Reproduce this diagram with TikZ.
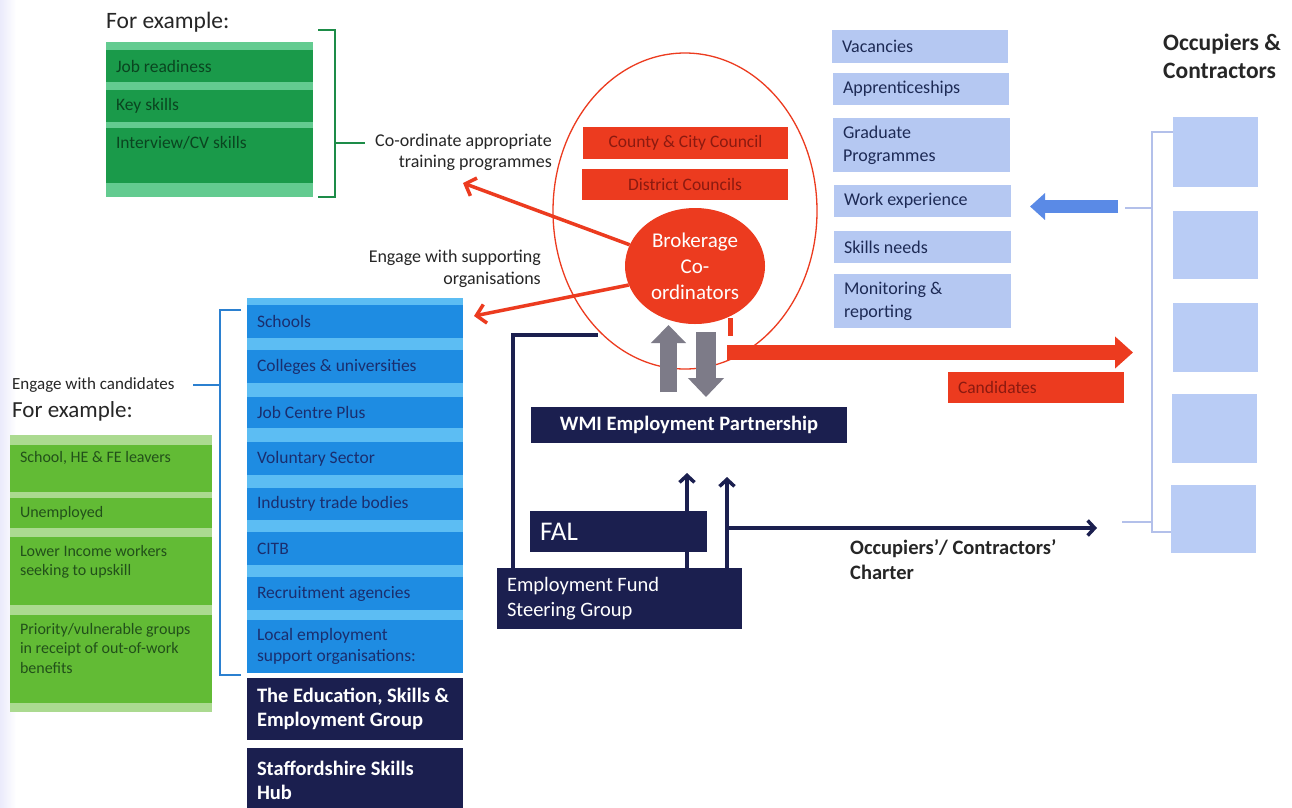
\documentclass[tikz,border=0pt]{standalone}
\usepackage{fontspec}
\setmainfont{Carlito}
\usetikzlibrary{shapes.geometric,arrows.meta}
\definecolor{myred}{HTML}{EC3B1F}
\definecolor{redtext}{HTML}{8B1A10}
\definecolor{dkgreen}{HTML}{1A9A4A}
\definecolor{dgstrip}{HTML}{63CB90}
\definecolor{dgtext}{HTML}{0A4520}
\definecolor{lmgreen}{HTML}{62BB35}
\definecolor{lgstrip}{HTML}{ABDA90}
\definecolor{lgtext}{HTML}{22501A}
\definecolor{bluebox}{HTML}{1E8CE2}
\definecolor{bstrip}{HTML}{5CBDF3}
\definecolor{btext}{HTML}{1A2E6E}
\definecolor{navy}{HTML}{1B1F4F}
\definecolor{peri}{HTML}{B5C8F2}
\definecolor{peritext}{HTML}{1D2A55}
\definecolor{occbox}{HTML}{B9CCF5}
\definecolor{occline}{HTML}{B3C0EA}
\definecolor{greyarr}{HTML}{7D7B88}
\definecolor{greenbr}{HTML}{1D8C48}
\definecolor{bluebr}{HTML}{2B80D0}
\definecolor{bluearr}{HTML}{5A8AE6}
\definecolor{lbltext}{HTML}{262626}
\newcommand\fs[2]{\fontsize{#1}{#2}\selectfont}
% #1 style, #2 name, #3 x1, #4 y1, #5 x2, #6 y2, #7 vertical pos, #8 text
\newcommand\rbox[8]{%
  \pgfmathsetmacro\bw{#5-#3}%
  \pgfmathsetmacro\bh{#6-#4}%
  \pgfmathsetmacro\tw{#5-#3-20}%
  \node[#1,inner sep=0pt,minimum width=\bw pt,minimum height=\bh pt] (#2)
    at ({(#3+#5)/2},{(#4+#6)/2}) {\parbox[c][\bh pt][#7]{\tw pt}{\raggedright #8}};%
}
\tikzset{
  gpanel/.style={fill=dgstrip},
  gbox/.style={fill=dkgreen,text=dgtext,font=\fs{17.5}{20}},
  lpanel/.style={fill=lgstrip},
  lbox/.style={fill=lmgreen,text=lgtext,font=\fs{16}{19.5}},
  bpanel/.style={fill=bstrip},
  bbox/.style={fill=bluebox,text=btext,font=\fs{17.5}{21}},
  nbox/.style={fill=navy,text=white,font=\fs{20.5}{24}\bfseries},
  nrbox/.style={fill=navy,text=white,font=\fs{20.5}{25}},
  rbx/.style={fill=myred,text=redtext,font=\fs{17.5}{19}},
  pbox/.style={fill=peri,text=peritext,font=\fs{18}{23}},
  obox/.style={fill=occbox},
  lbl/.style={text=lbltext,inner sep=0pt},
  redln/.style={draw=myred,line width=3.5pt,-{Straight Barb[length=9pt,width=19pt]}},
  navyln/.style={draw=navy,line width=3.5pt,-{Straight Barb[length=7pt,width=15pt]}},
  navyplain/.style={draw=navy,line width=3.5pt},
  gbracket/.style={draw=greenbr,line width=2.5pt},
  bbracket/.style={draw=bluebr,line width=2.2pt},
  obracket/.style={draw=occline,line width=2.8pt},
}
\begin{document}
\begin{tikzpicture}[x=1pt,y=-1pt]
\useasboundingbox (0,0) rectangle (1292,807);
\fill[white] (0,0) rectangle (1292,807);
\shade[left color=black!18!blue!8, right color=white] (0,0) rectangle (16,807);

% ---------- top-left training block ----------
\node[lbl,anchor=base west,font=\fs{23.5}{26}] (fe1) at (106,28) {For example:};
\rbox{gpanel}{gpan}{106}{42}{313}{197}{c}{}
\rbox{gbox}{gb1}{106}{50}{313}{82}{c}{Job readiness}
\rbox{gbox}{gb2}{106}{90}{313}{122}{c}{Key skills}
\rbox{gbox}{gb3}{106}{128}{313}{183}{t}{\vspace*{8pt}Interview/CV skills}
\draw[gbracket] (318,30) -- (335,30) -- (335,197) -- (318,197);
\coordinate (gbm) at (335,143);
\coordinate (gbt) at (365,143);
\draw[gbracket] (gbm) -- (gbt);
\node[lbl,anchor=east,align=right,font=\fs{18}{21}] (coord) at (552,152)
  {Co-ordinate appropriate\\training programmes};

% ---------- red ellipse ----------
\node[draw=myred,line width=1.3pt,ellipse,minimum width=264pt,minimum height=316pt,inner sep=0pt] (ell) at (685,211) {};
\rbox{rbx}{cc}{583}{127}{788}{159}{c}{\centering County \& City Council}
\rbox{rbx}{dc}{582}{169}{788}{200}{c}{\centering District Councils}
\node[ellipse,fill=myred,text=white,minimum width=140pt,minimum height=116pt,inner sep=0pt,align=center,font=\fs{21}{26}] (brok) at (695,266)
  {Brokerage\\Co-\\ordinators};

\coordinate (t1) at (463,183);
\coordinate (t2) at (474,316);
\draw[redln] (brok.162) -- (t1);
\draw[redln] (brok.196) -- (t2);
\node[lbl,anchor=east,align=right,font=\fs{18}{22.5}] (engsup) at (541,269)
  {Engage with supporting\\organisations};

% ---------- right list ----------
\rbox{pbox}{r1}{832}{30}{1008}{63}{c}{Vacancies}
\rbox{pbox}{r2}{833}{73}{1009}{105}{c}{Apprenticeships}
\rbox{pbox}{r3}{833}{118}{1010}{172}{c}{Graduate\\Programmes}
\rbox{pbox}{r4}{834}{185}{1011}{217}{c}{Work experience}
\rbox{pbox}{r5}{834}{231}{1011}{263}{c}{Skills needs}
\rbox{pbox}{r6}{834}{274}{1011}{328}{c}{Monitoring \&\\reporting}

% ---------- occupiers ----------
\node[lbl,anchor=west,align=left,font=\fs{23.5}{28}\bfseries] (occ) at (1163,56)
  {Occupiers \&\\Contractors};
\rbox{obox}{o1}{1173}{117}{1258}{187}{c}{}
\rbox{obox}{o2}{1173}{211}{1258}{279}{c}{}
\rbox{obox}{o3}{1173}{303}{1258}{372}{c}{}
\rbox{obox}{o4}{1172}{394}{1257}{463}{c}{}
\rbox{obox}{o5}{1171}{485}{1256}{553}{c}{}
\draw[obracket] (o1.west |- 0,132) -- (1152,132) -- (1152,532) -- (o5.west |- 0,532);
\coordinate (ob1) at (1152,208);
\coordinate (ob2) at (1152,522);
\coordinate (bl1) at (1125,208);
\coordinate (bl2) at (1122,522);
\draw[obracket] (bl1) -- (ob1);
\draw[obracket] (bl2) -- (ob2);
\coordinate (ba1) at (1118,206.5);
\coordinate (ba2) at (1030,206.5);
\draw[draw=bluearr,line width=13pt,-{Triangle[length=15pt,width=26pt]}] (ba1) -- (ba2);

% ---------- grey arrows ----------
\coordinate (gu1) at (668.5,392);
\coordinate (gu2) at (668.5,325);
\coordinate (gd1) at (706,332);
\coordinate (gd2) at (706,397);
\draw[draw=greyarr,line width=17pt,-{Triangle[length=18pt,width=34pt]}] (gu1) -- (gu2);
\draw[draw=greyarr,line width=20pt,-{Triangle[length=19pt,width=35pt]}] (gd1) -- (gd2);

% ---------- red candidates arrow ----------
\coordinate (rb1) at (730,318);
\coordinate (rb2) at (730,336);
\draw[draw=myred,line width=5pt] (rb1) -- (rb2);
\coordinate (ra1) at (727,352.5);
\coordinate (ra2) at (1133,352.5);
\draw[draw=myred,line width=15pt,-{Triangle[length=18pt,width=31pt]}] (ra1) -- (ra2);
\rbox{rbx}{cand}{948}{372}{1124}{403}{c}{Candidates}

% ---------- navy governance ----------
\rbox{nbox}{wmi}{531}{407}{847}{443}{c}{\centering WMI Employment Partnership}
\rbox{fill=navy,text=white,font=\fs{27}{30}}{fal}{530}{511}{707}{552}{c}{FAL}
\rbox{nrbox}{efsg}{497}{568}{742}{629}{c}{Employment Fund\\Steering Group}
\coordinate (nl1) at (598,335);
\draw[navyplain] (efsg.north west) ++(16,0) |- (nl1);
\coordinate (na1) at (687,473);
\coordinate (na2) at (727,477);
\coordinate (na3) at (727,528);
\coordinate (na4) at (1097,528);
\draw[navyln] (efsg.north -| na1) -- (na1);
\draw[navyln] (efsg.north -| na2) -- (na2);
\draw[navyln] (na3) -- (na4);
\node[lbl,anchor=west,align=left,font=\fs{20.5}{25}\bfseries] (charter) at (850,560)
  {Occupiers'/ Contractors'\\Charter};

% ---------- supporting organisations ----------
\rbox{bpanel}{bpan}{247}{298}{463}{673}{c}{}
\rbox{bbox}{s1}{247}{305}{463}{338}{c}{Schools}
\rbox{bbox}{s2}{247}{350}{463}{383}{c}{Colleges \& universities}
\rbox{bbox}{s3}{247}{397}{463}{428}{c}{Job Centre Plus}
\rbox{bbox}{s4}{247}{442}{463}{475}{c}{Voluntary Sector}
\rbox{bbox}{s5}{247}{488}{463}{520}{c}{Industry trade bodies}
\rbox{bbox}{s6}{247}{532}{463}{565}{c}{CITB}
\rbox{bbox}{s7}{247}{577}{463}{610}{c}{Recruitment agencies}
\rbox{bbox}{s8}{247}{620}{463}{673}{c}{Local employment\\support organisations:}
\rbox{nbox}{n1}{247}{678}{463}{740}{c}{The Education, Skills \&\\Employment Group}
\rbox{nbox}{n2}{247}{748}{463}{812}{c}{Staffordshire Skills\\Hub}
\draw[bbracket] (241,310) -- (220,310) -- (220,675) -- (241,675);
\coordinate (bbm) at (220,385);
\coordinate (bbt) at (193,385);
\draw[bbracket] (bbm) -- (bbt);

% ---------- candidates ----------
\node[lbl,anchor=west,font=\fs{17}{19}] (engcand) at (12,385) {Engage with candidates};
\node[lbl,anchor=west,font=\fs{23}{25}] (fe2) at (12,411) {For example:};
\rbox{lpanel}{lpan}{10}{435}{212}{712}{c}{}
\rbox{lbox}{c1}{10}{445}{212}{492}{t}{\vspace*{6pt}School, HE \& FE leavers}
\rbox{lbox}{c2}{10}{498}{212}{528}{c}{Unemployed}
\rbox{lbox}{c3}{10}{537}{212}{605}{t}{\vspace*{8pt}Lower Income workers\\seeking to upskill}
\rbox{lbox}{c4}{10}{615}{212}{703}{t}{\vspace*{8pt}Priority/vulnerable groups\\in receipt of out-of-work\\benefits}
\end{tikzpicture}
\end{document}
